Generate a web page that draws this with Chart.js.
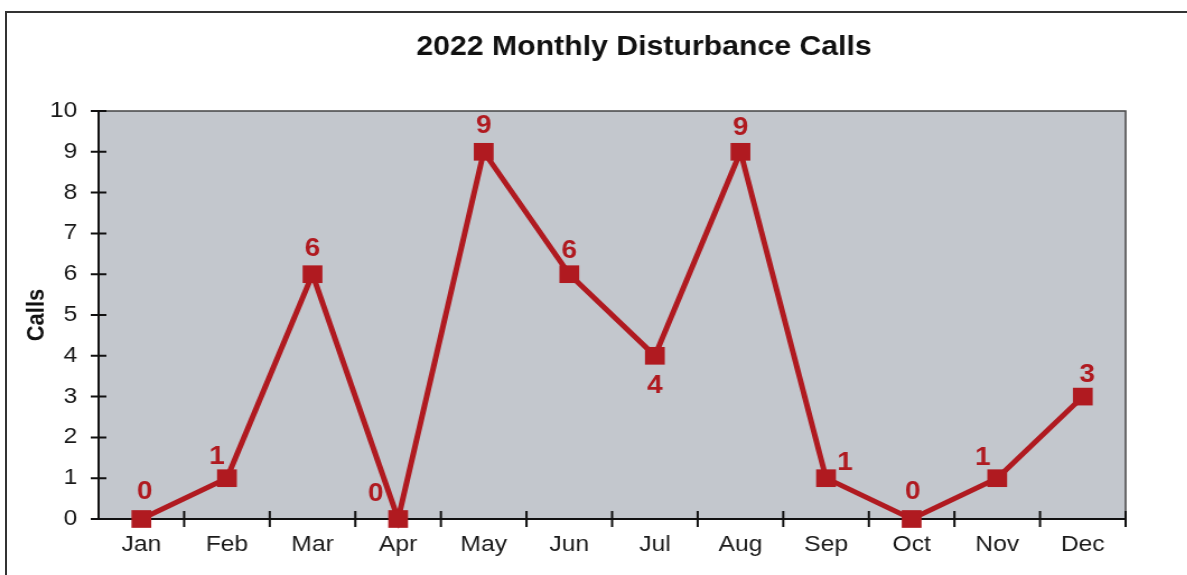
<!DOCTYPE html>
<html>
<head>
<meta charset="utf-8">
<script src="https://cdn.jsdelivr.net/npm/chart.js@4.4.1/dist/chart.umd.min.js"></script>
<style>
  html, body { margin: 0; padding: 0; background: #fff; overflow: hidden; }
  #frame { position: absolute; left: 5px; top: 11px; width: 1182px; height: 564px;
           border-left: 2px solid #333; border-top: 2px solid #333; }
  /* the scanned original is a little wider than tall, so stretch the canvas sideways */
  #wrap { position: absolute; left: 0; top: 0; width: 1060px; height: 575px;
          transform: scaleX(1.12); transform-origin: 0 0; }
</style>
</head>
<body>
<div id="frame"></div>
<div id="wrap"><canvas id="grafico" width="1060" height="575"></canvas></div>
<script>
const meses = ['Jan', 'Feb', 'Mar', 'Apr', 'May', 'Jun', 'Jul', 'Aug', 'Sep', 'Oct', 'Nov', 'Dec'];
const chamadas = [0, 1, 6, 0, 9, 6, 4, 9, 1, 0, 1, 3];
const ticksY = [0, 1, 2, 3, 4, 5, 6, 7, 8, 9, 10];
const titulo = '2022 Monthly Disturbance Calls';

// where each value label sits relative to its point (dx, dy)
const posRotulos = [[3,-27], [-9,-21], [0,-25], [-20,-25], [0,-26], [0,-23],
                    [0,30], [0,-24], [17,-15], [1,-27], [-13,-20], [4,-21]];

const vermelho = '#b01a20';
const fonte = '"Liberation Sans", Arial, sans-serif';

const fundoPlot = {
  id: 'fundoPlot',
  beforeDraw(chart) {
    const {ctx, chartArea: a} = chart;
    ctx.save();
    ctx.fillStyle = '#c3c7cd';
    ctx.fillRect(a.left, a.top, a.right - a.left, a.bottom - a.top);
    ctx.strokeStyle = '#444';
    ctx.lineWidth = 1.5;
    ctx.beginPath();
    ctx.moveTo(a.left, a.top);
    ctx.lineTo(a.right, a.top);
    ctx.lineTo(a.right, a.bottom);
    ctx.stroke();
    ctx.restore();
  },
  afterDraw(chart) {
    const {ctx, chartArea: a, scales} = chart;
    ctx.save();
    ctx.strokeStyle = '#111';
    ctx.lineWidth = 2;
    ctx.beginPath();
    scales.y.ticks.forEach((t, i) => {
      const y = scales.y.getPixelForTick(i);
      ctx.moveTo(a.left - 7, y);
      ctx.lineTo(a.left + 7, y);
    });
    const w = (a.right - a.left) / meses.length;
    for (let i = 1; i <= meses.length; i++) {
      const x = a.left + i * w;
      ctx.moveTo(x, a.bottom - 8);
      ctx.lineTo(x, a.bottom + 8);
    }
    ctx.stroke();
    ctx.restore();
  }
};

const rotulos = {
  id: 'rotulos',
  afterDatasetsDraw(chart) {
    const {ctx} = chart;
    const meta = chart.getDatasetMeta(0);
    ctx.save();
    ctx.fillStyle = vermelho;
    ctx.font = 'bold 25px ' + fonte;
    ctx.textAlign = 'center';
    ctx.textBaseline = 'middle';
    meta.data.forEach((p, i) => {
      const [dx, dy] = posRotulos[i];
      ctx.fillText(String(chamadas[i]), p.x + dx, p.y + dy);
    });
    ctx.restore();
  }
};

const tituloPlugin = {
  id: 'tituloPlugin',
  afterDraw(chart) {
    const {ctx} = chart;
    ctx.save();
    ctx.fillStyle = '#111';
    ctx.font = 'bold 27px ' + fonte;
    ctx.textAlign = 'center';
    ctx.textBaseline = 'middle';
    ctx.fillText(titulo, 575, 48);
    ctx.restore();
  }
};

const ctx = document.getElementById('grafico');

new Chart(ctx, {
  type: 'line',
  data: {
    labels: meses,
    datasets: [{
      data: chamadas,
      borderColor: vermelho,
      backgroundColor: vermelho,
      borderWidth: 5,
      pointStyle: 'rect',
      pointRadius: 12.5,
      pointHoverRadius: 12.5,
      pointBorderWidth: 0,
      tension: 0,
      clip: false
    }]
  },
  options: {
    responsive: false,
    animation: false,
    devicePixelRatio: 1,
    layout: { padding: { top: 111, right: 55, left: 0, bottom: 0 } },
    plugins: { legend: { display: false }, tooltip: { enabled: false }, title: { display: false } },
    scales: {
      x: {
        offset: true,
        grid: { display: false, drawTicks: false },
        border: { display: true, color: '#111', width: 2 },
        ticks: { color: '#1a1a1a', padding: 13, font: { size: 22, family: fonte } },
        afterFit(scale) { scale.height = 56; }
      },
      y: {
        min: 0,
        max: 10,
        afterBuildTicks(scale) { scale.ticks = ticksY.map(v => ({ value: v })); },
        grid: { display: false, drawTicks: false },
        border: { display: true, color: '#111', width: 2 },
        ticks: { color: '#1a1a1a', padding: 19, font: { size: 22, family: fonte } },
        title: {
          display: true,
          text: 'Calls',
          color: '#111',
          padding: { top: 20, bottom: 0 },
          font: { size: 22, weight: 'bold', family: fonte }
        },
        afterFit(scale) { scale.width = 88; }
      }
    }
  },
  plugins: [fundoPlot, rotulos, tituloPlugin]
});
</script>
</body>
</html>
